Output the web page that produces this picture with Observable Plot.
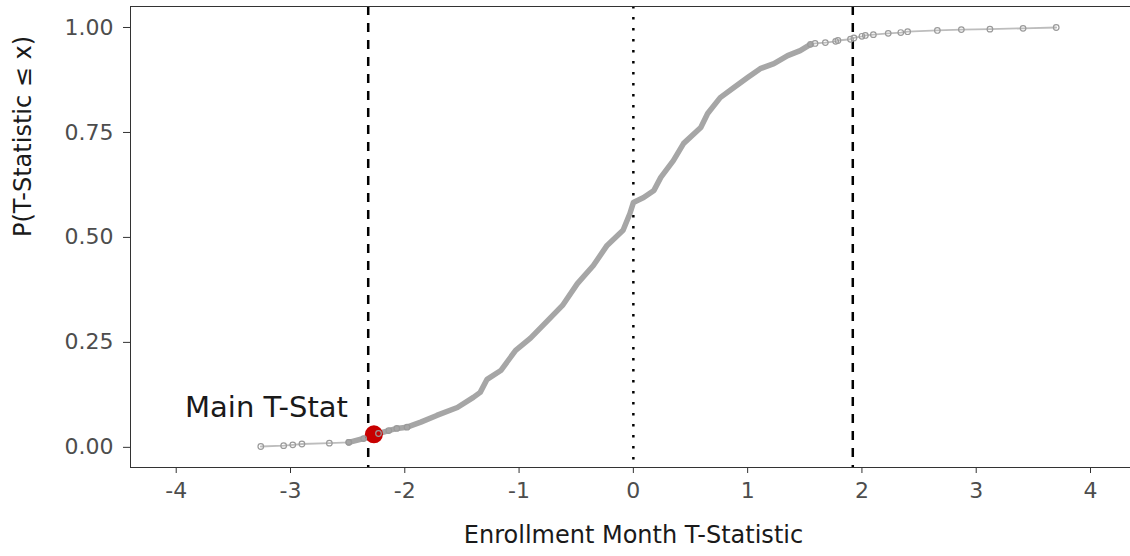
<!DOCTYPE html>
<html>
<head>
<meta charset="utf-8">
<script src="https://cdn.jsdelivr.net/npm/d3@7"></script>
<script src="https://cdn.jsdelivr.net/npm/@observablehq/plot@0.6"></script>
<style>
body { margin: 0; background: white; }
</style>
</head>
<body>
<div id="chart"></div>
<script>
// sparse left tail of the ECDF
let leftTailX = [-3.26, -3.06, -2.98, -2.90, -2.66, -2.49]
let leftTailP = [0.002, 0.004, 0.006, 0.008, 0.010, 0.012]

// dense middle of the ECDF
let bodyX = [-2.49, -2.36, -2.23, -2.14, -2.07, -1.98, -1.86, -1.72, -1.54, -1.40, -1.34, -1.28,
  -1.16, -1.03, -0.90, -0.75, -0.62, -0.49, -0.35, -0.23, -0.09, -0.03, 0.00, 0.09, 0.18,
  0.24, 0.35, 0.44, 0.59, 0.65, 0.76, 0.88, 1.00, 1.11, 1.23, 1.35, 1.46, 1.55]
let bodyP = [0.012, 0.021, 0.033, 0.040, 0.045, 0.048, 0.060, 0.076, 0.095, 0.119, 0.131, 0.162,
  0.183, 0.231, 0.260, 0.302, 0.338, 0.390, 0.433, 0.481, 0.517, 0.557, 0.583, 0.595, 0.612,
  0.643, 0.683, 0.724, 0.762, 0.795, 0.833, 0.857, 0.881, 0.902, 0.914, 0.933, 0.945, 0.960]

// sparse right tail
let rightTailX = [1.55, 1.59, 1.68, 1.77, 1.79, 1.90, 1.93, 2.00, 2.03, 2.10, 2.23, 2.34, 2.40, 2.66, 2.87, 3.12, 3.41, 3.70]
let rightTailP = [0.960, 0.962, 0.964, 0.967, 0.969, 0.972, 0.975, 0.979, 0.981, 0.983, 0.986, 0.988, 0.990, 0.993, 0.995, 0.996, 0.998, 1.000]

// main estimate and reference lines
let mainX = [-2.27]
let mainP = [0.031]
let dashedRefs = [-2.32, 1.92]
let dottedRefs = [0]

let xTicks = [-4, -3, -2, -1, 0, 1, 2, 3, 4]
let yTicks = [0, 0.25, 0.5, 0.75, 1]
let xDomain = [-4.40, 4.35]
let yDomain = [-0.048, 1.05]

let toRows = (xs, ps) => xs.map((x, i) => ({x: x, p: ps[i]}))
let left = toRows(leftTailX, leftTailP)
let body = toRows(bodyX, bodyP)
let right = toRows(rightTailX, rightTailP)
let all = left.concat(body, right)
let main = toRows(mainX, mainP)

let chart = Plot.plot({
  width: 1130,
  height: 556,
  marginLeft: 130,
  marginRight: 0,
  marginTop: 6,
  marginBottom: 89,
  style: {
    fontFamily: "DejaVu Sans",
    fontSize: "22px",
    background: "white",
  },
  x: { domain: xDomain },
  y: { domain: yDomain },
  marks: [
    Plot.ruleX(dashedRefs, { stroke: "black", strokeWidth: 2.5, strokeDasharray: "9,8" }),
    Plot.ruleX(dottedRefs, { stroke: "black", strokeWidth: 2.5, strokeDasharray: "2.5,8.5" }),
    Plot.line(all, { x: "x", y: "p", stroke: "#bdbdbd", strokeWidth: 1.8 }),
    Plot.line(body, { x: "x", y: "p", stroke: "#a6a6a6", strokeWidth: 5.5 }),
    Plot.dot(main, { x: "x", y: "p", r: 9, fill: "#c80000", stroke: "none" }),
    Plot.dot(left.concat(right, body.slice(0, 6)), { x: "x", y: "p", r: 2.8, stroke: "#9a9a9a", strokeWidth: 1.2, fill: "none" }),
    Plot.text(main, { x: "x", y: "p", text: d => "Main T-Stat", textAnchor: "end", dx: -26, dy: -27, fontSize: 29, fill: "#1a1a1a" }),
    Plot.ruleX([xDomain[0]], { stroke: "#333" }),
    Plot.ruleY(yDomain, { stroke: "#333" }),
    Plot.axisX({ ticks: xTicks, tickFormat: d => String(d), tickSize: 6, tickPadding: 9, fontSize: 22, stroke: "#333", fill: "#4d4d4d", label: null }),
    Plot.axisY({ ticks: yTicks, tickFormat: d3.format(".2f"), tickSize: 7, tickPadding: 10, fontSize: 22, stroke: "#333", fill: "#4d4d4d", label: null }),
    Plot.text(["Enrollment Month T-Statistic"], { frameAnchor: "bottom", dy: 75, dx: 3, fontSize: 24, fill: "#1a1a1a" }),
    Plot.text(["P(T-Statistic \u2264 x)"], { frameAnchor: "left", dx: -107, rotate: -90, fontSize: 24, fill: "#1a1a1a" }),
  ]
})

d3.select("#chart").append(() => chart)
</script>
</body>
</html>
